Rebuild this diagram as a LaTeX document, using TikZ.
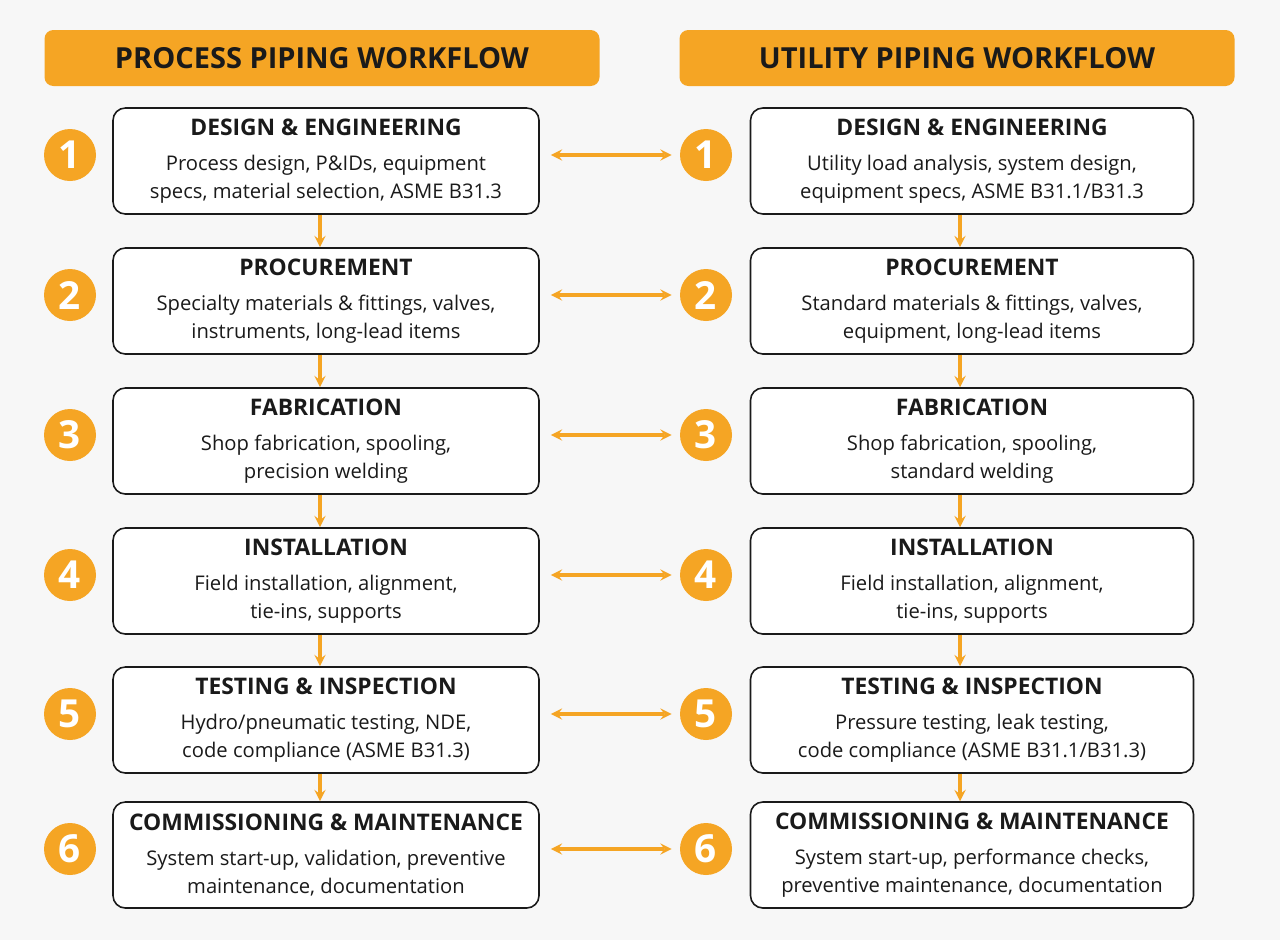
\documentclass[tikz,border=0pt]{standalone}
\usepackage{fontspec}
\setmainfont{Open Sans}
\usetikzlibrary{positioning}
\definecolor{pipeorange}{HTML}{F5A524}
\definecolor{pipetext}{HTML}{1A1A1A}

\begin{document}
\begin{tikzpicture}[x=0.02cm,y=-0.02cm,
    stepbox/.style={draw=pipetext,line width=0.9pt,rounded corners=7pt,fill=white,
      minimum width=426*0.02cm,minimum height=106*0.02cm,align=center,
      font=\fontsize{11.5}{16}\selectfont,text=pipetext},
    headbar/.style={fill=pipeorange,rounded corners=5pt,minimum width=555*0.02cm,
      minimum height=56*0.02cm,font=\bfseries\fontsize{16.5}{20}\selectfont,text=pipetext},
    numdot/.style={circle,fill=pipeorange,minimum size=52*0.02cm,inner sep=0pt,
      text=white,font=\bfseries\fontsize{22}{22}\selectfont},
    flow/.style={-stealth,pipeorange,line width=1.8pt},
    link/.style={stealth-stealth,pipeorange,line width=1.8pt}]
    \fill[white!97!black] (0,0) rectangle (1280,940);
    \node[headbar] (hL) at (322,58) {PROCESS PIPING WORKFLOW};
    \node[headbar] (hR) at (957,58) {UTILITY PIPING WORKFLOW};

    % left column
    \foreach \i/\y/\t/\b in {
      1/161/DESIGN \& ENGINEERING/{Process design, P\&IDs, equipment\\specs, material selection, ASME B31.3},
      2/301/PROCUREMENT/{Specialty materials \& fittings, valves,\\instruments, long-lead items},
      3/441/FABRICATION/{Shop fabrication, spooling,\\precision welding},
      4/581/INSTALLATION/{Field installation, alignment,\\tie-ins, supports},
      5/720/TESTING \& INSPECTION/{Hydro/pneumatic testing, NDE,\\code compliance (ASME B31.3)},
      6/855/COMMISSIONING \& MAINTENANCE/{System start-up, validation, preventive\\maintenance, documentation}}
    {
      \node[stepbox] (L\i) at (326,\y) {{\bfseries\fontsize{13}{17}\selectfont \t}\\[4pt]\b};
      \node[numdot] (cL\i) at (70,\y-6) {\i};
    }
    % right column
    \foreach \i/\y/\t/\b in {
      1/161/DESIGN \& ENGINEERING/{Utility load analysis, system design,\\equipment specs, ASME B31.1/B31.3},
      2/301/PROCUREMENT/{Standard materials \& fittings, valves,\\equipment, long-lead items},
      3/441/FABRICATION/{Shop fabrication, spooling,\\standard welding},
      4/581/INSTALLATION/{Field installation, alignment,\\tie-ins, supports},
      5/720/TESTING \& INSPECTION/{Pressure testing, leak testing,\\code compliance (ASME B31.1/B31.3)},
      6/855/COMMISSIONING \& MAINTENANCE/{System start-up, performance checks,\\preventive maintenance, documentation}}
    {
      \node[stepbox,minimum width=443*0.02cm] (R\i) at (972,\y) {{\bfseries\fontsize{13}{17}\selectfont \t}\\[4pt]\b};
      \node[numdot] (cR\i) at (706,\y-6) {\i};
      \draw[link] ([xshift=11*0.02cm]L\i.east|-cR\i) -- ([xshift=-8*0.02cm]cR\i.west);
    }
    \foreach \i [evaluate=\i as \j using int(\i+1)] in {1,...,5} {
      \draw[flow] ([xshift=-6*0.02cm]L\i.south) -- ([xshift=-6*0.02cm]L\j.north);
      \draw[flow] ([xshift=-12*0.02cm]R\i.south) -- ([xshift=-12*0.02cm]R\j.north);
    }
\end{tikzpicture}
\end{document}
